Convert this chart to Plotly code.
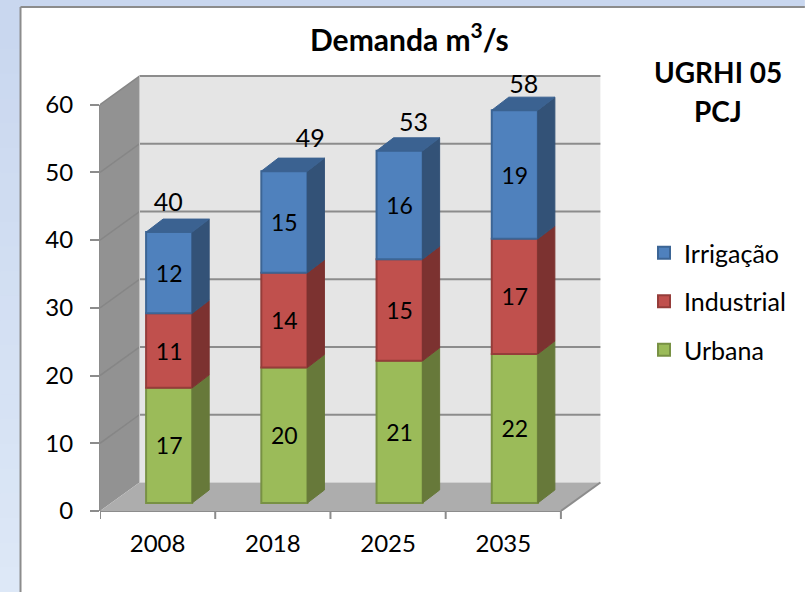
import plotly.graph_objects as go

years = ["2008", "2018", "2025", "2035"]
urbana = [17, 20, 21, 22]
industrial = [11, 14, 15, 17]
irrigacao = [12, 15, 16, 19]
totais = [40, 49, 53, 58]
y_ticks = [0, 10, 20, 30, 40, 50, 60]

W, H = 805, 592
LEFT, BASE = 100, 511           # pixel of x=0, y=0
PX_X, PX_Y = 115.25, 6.767      # pixels per unit
XMAX, YMAX = 4.4, 66
FONT = "Lato"
TXT = "#000000"

# depth of wall and bars in axis units
wdx, wdy = 39.5 / PX_X, 28.5 / PX_Y
bdx, bdy = 17 / PX_X, 13 / PX_Y
lift = 8 / PX_Y
shift = 0.6
bw = 0.4
n = len(years)
centers = [i + shift for i in range(n)]
label_dx = [-1 / PX_X, 26 / PX_X, 14 / PX_X, 9 / PX_X]
label_dy = [27 / PX_Y, 30 / PX_Y, 26 / PX_Y, 23 / PX_Y]

series = [
    ("Urbana", urbana, "#9bbb59", "#789144", "#67793a"),
    ("Industrial", industrial, "#c0504d", "#953d3a", "#7c3230"),
    ("Irrigação", irrigacao, "#4f81bd", "#3c6595", "#335277"),
]


def pxx(p):
    return (p - LEFT) / (XMAX * PX_X)


def pxy(p):
    return (BASE - p) / (YMAX * PX_Y)


shapes = []
# slide background (soft vertical gradient) and chart frame
steps = 24
for k in range(steps):
    t = k / (steps - 1)
    c = "rgb(%d,%d,%d)" % (201 + 20 * t, 215 + 17 * t, 239 + 8 * t)
    shapes.append(dict(type="rect", xref="paper", yref="paper", layer="below",
                       x0=pxx(0), x1=pxx(20), y0=pxy(H * k / steps), y1=pxy(H * (k + 1) / steps + 1),
                       fillcolor=c, line_width=0))
shapes.append(dict(type="rect", xref="paper", yref="paper", layer="below",
                   x0=pxx(0), x1=pxx(W), y0=pxy(0), y1=pxy(8), fillcolor="#c9d7ef", line_width=0))
shapes.append(dict(type="line", xref="paper", yref="paper", layer="below",
                   x0=pxx(20.5), x1=pxx(20.5), y0=pxy(7.5), y1=pxy(H), line=dict(color="#8c8c8c", width=2)))
shapes.append(dict(type="line", xref="paper", yref="paper", layer="below",
                   x0=pxx(20.5), x1=pxx(W), y0=pxy(7.5), y1=pxy(7.5), line=dict(color="#8c8c8c", width=2)))


def poly(points, fill):
    path = "M" + " L".join(f"{a},{b}" for a, b in points) + " Z"
    return dict(type="path", path=path, xref="x", yref="y", layer="below",
                fillcolor=fill, line_width=0)


top = y_ticks[-1]
shapes.append(poly([(wdx, wdy), (n + wdx, wdy), (n + wdx, top + wdy), (wdx, top + wdy)], "#e5e5e5"))
shapes.append(poly([(0, 0), (wdx, wdy), (wdx, top + wdy), (0, top)], "#929292"))
shapes.append(poly([(0, 0), (n, 0), (n + wdx, wdy), (wdx, wdy)], "#adadad"))
for v in y_ticks[1:]:
    shapes.append(dict(type="line", xref="x", yref="y", layer="below", x0=wdx, x1=n + wdx,
                       y0=v + wdy, y1=v + wdy, line=dict(color="#8c8c8c", width=2)))
    shapes.append(dict(type="line", xref="x", yref="y", layer="below", x0=0, x1=wdx,
                       y0=v, y1=v + wdy, line=dict(color="#868686", width=1.5)))
shapes.append(dict(type="line", xref="x", yref="y", layer="below", x0=wdx, x1=wdx,
                   y0=wdy, y1=top + wdy, line=dict(color="#c4c4c4", width=1)))

# axis lines and tick marks
axis_line = dict(color="#8c8c8c", width=2)
shapes.append(dict(type="line", xref="x", yref="paper", layer="below", x0=0, x1=n, y0=0, y1=0, line=axis_line))
shapes.append(dict(type="line", xref="paper", yref="y", layer="below", x0=0, x1=0, y0=0, y1=top, line=axis_line))
shapes.append(dict(type="line", xref="x", yref="y", layer="below", x0=n, x1=n + wdx, y0=0, y1=wdy, line=axis_line))
for i in range(n + 1):
    shapes.append(dict(type="line", xref="x", yref="paper", layer="below", x0=i, x1=i,
                       y0=0, y1=pxy(BASE + 8), line=axis_line))

fig = go.Figure()

# stacked front faces
base = [lift] * n
for name, vals, fill, edge, side in series:
    fig.add_trace(go.Bar(x=centers, y=vals, base=list(base), width=bw, name=name, showlegend=False,
                         marker=dict(color=fill, line=dict(color=edge, width=2)),
                         text=[str(v) for v in vals], textposition="inside", textangle=0,
                         insidetextanchor="middle", constraintext="none",
                         insidetextfont=dict(family=FONT, size=23, color=TXT)))
    # right-hand side faces
    xs, ys = [], []
    for c, b, v in zip(centers, base, vals):
        r = c + bw / 2
        xs += [r, r + bdx, r + bdx, r, r, None]
        ys += [b, b + bdy, b + v + bdy, b + v, b, None]
    fig.add_trace(go.Scatter(x=xs, y=ys, mode="lines", fill="toself", fillcolor=side, showlegend=False,
                             hoverinfo="skip", line=dict(color=side, width=1)))
    base = [b + v for b, v in zip(base, vals)]

# top faces of the stack
xs, ys = [], []
for c, b in zip(centers, base):
    l, r = c - bw / 2, c + bw / 2
    xs += [l, r, r + bdx, l + bdx, l, None]
    ys += [b, b, b + bdy, b + bdy, b, None]
fig.add_trace(go.Scatter(x=xs, y=ys, mode="lines", fill="toself", fillcolor="#3b6291", showlegend=False,
                         hoverinfo="skip", line=dict(color="#3b6291", width=1)))

# totals
fig.add_trace(go.Scatter(x=[c + d for c, d in zip(centers, label_dx)],
                         y=[b + d for b, d in zip(base, label_dy)],
                         mode="text", text=[str(t) for t in totais], textposition="middle center",
                         textfont=dict(family=FONT, size=25, color=TXT), showlegend=False,
                         hoverinfo="skip", cliponaxis=False))

# legend entries
for name, vals, fill, edge, side in reversed(series):
    fig.add_trace(go.Scatter(x=[None], y=[None], mode="markers", name=name, legendgroup=name,
                             marker=dict(symbol="square", size=16, color=fill, line=dict(color=edge, width=2))))

fig.update_layout(
    width=W, height=H,
    margin=dict(l=LEFT, r=W - LEFT - XMAX * PX_X, t=BASE - YMAX * PX_Y, b=H - BASE, pad=0, autoexpand=False),
    paper_bgcolor="#ffffff", plot_bgcolor="rgba(0,0,0,0)",
    barmode="overlay", shapes=shapes,
    xaxis=dict(range=[0, XMAX], tickmode="array", tickvals=[i + 0.5 for i in range(n)], ticktext=years,
               ticks="outside", ticklen=11, tickcolor="rgba(0,0,0,0)", showgrid=False, zeroline=False,
               showline=False, tickfont=dict(family=FONT, size=24, color=TXT)),
    yaxis=dict(range=[0, YMAX], tickmode="array", tickvals=y_ticks, ticks="outside", ticklen=9, tickwidth=2,
               tickcolor="#8c8c8c", showgrid=False, zeroline=False, showline=False, ticklabelstandoff=12,
               tickfont=dict(family=FONT, size=24, color=TXT)),
    legend=dict(xref="container", yref="container", x=644 / W, y=1 - 230 / H, xanchor="left", yanchor="top",
                traceorder="grouped", tracegroupgap=13, itemsizing="constant", bgcolor="rgba(0,0,0,0)",
                font=dict(family=FONT, size=25, color=TXT)),
    annotations=[
        dict(text="Demanda m<sup>3</sup>/s", xref="paper", yref="paper", x=pxx(409.5), y=pxy(37),
             xanchor="center", yanchor="middle", showarrow=False,
             font=dict(family=FONT, size=30, color=TXT, weight="bold")),
        dict(text="UGRHI 05", xref="paper", yref="paper", x=pxx(718.5), y=pxy(72),
             xanchor="center", yanchor="middle", showarrow=False,
             font=dict(family=FONT, size=28, color=TXT, weight="bold")),
        dict(text="PCJ", xref="paper", yref="paper", x=pxx(718.5), y=pxy(111),
             xanchor="center", yanchor="middle", showarrow=False,
             font=dict(family=FONT, size=28, color=TXT, weight="bold")),
    ],
    showlegend=True,
)

fig.write_html("out.html", post_script="document.body.style.margin='0';",
               config={"displayModeBar": False})
